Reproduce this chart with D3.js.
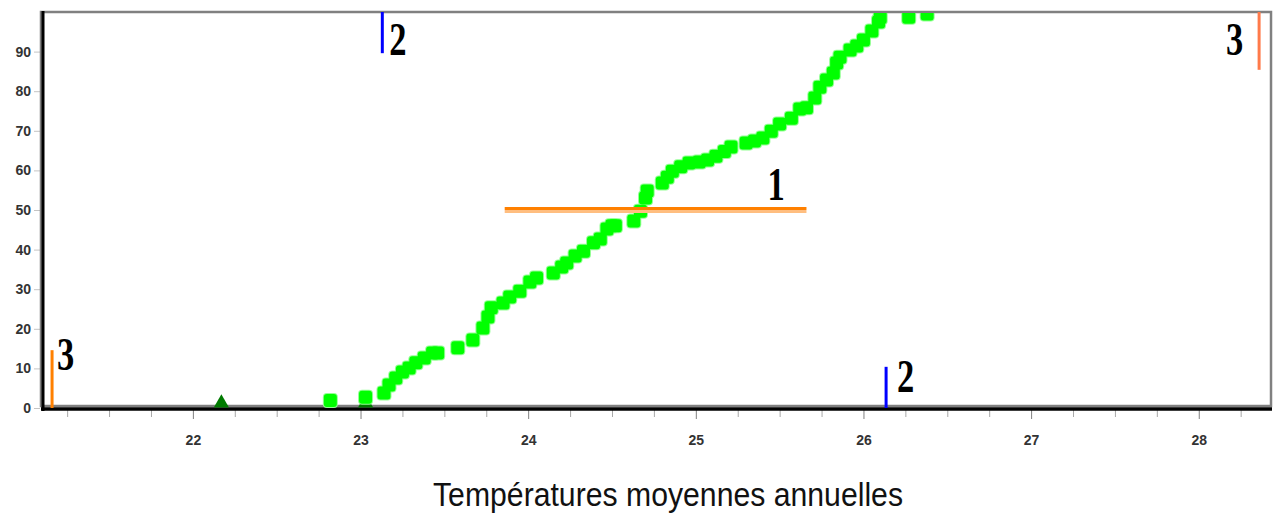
<!DOCTYPE html>
<html>
<head>
<meta charset="utf-8">
<script src="https://cdn.jsdelivr.net/npm/d3@7"></script>
<style>
  body { margin: 0; background: #fff; }
  svg { display: block; }
</style>
</head>
<body>
<script>
// cumulative frequency (%) of annual mean temperature
const tempC = [22.82, 23.03, 23.14, 23.17, 23.21, 23.25, 23.29, 23.33, 23.38, 23.43,
  23.46, 23.58, 23.67, 23.73, 23.76, 23.78, 23.85, 23.89, 23.95, 24.01,
  24.05, 24.15, 24.20, 24.23, 24.28, 24.33, 24.39, 24.43, 24.47, 24.50,
  24.52, 24.63, 24.67, 24.70, 24.71, 24.80, 24.83, 24.86, 24.91, 24.96,
  25.02, 25.07, 25.12, 25.17, 25.21, 25.30, 25.35, 25.40, 25.45, 25.50,
  25.57, 25.62, 25.66, 25.71, 25.74, 25.78, 25.82, 25.84, 25.86, 25.92,
  25.96, 26.00, 26.05, 26.09, 26.10, 26.27, 26.38];
const freqPct = [1.9, 2.7, 3.8, 5.8, 7.6, 9.1, 10.1, 11.4, 12.6, 13.9,
  13.9, 15.2, 17.2, 20.2, 23.0, 25.3, 26.5, 28.0, 29.5, 31.8,
  32.8, 34.1, 35.6, 36.6, 38.4, 39.6, 41.7, 42.7, 45.2, 46.0,
  46.0, 47.2, 49.7, 53.0, 54.8, 56.8, 58.3, 59.8, 60.9, 61.9,
  62.1, 62.6, 63.6, 64.8, 65.9, 66.9, 67.4, 68.2, 69.9, 71.7,
  73.2, 75.5, 75.8, 78.3, 81.0, 82.8, 84.6, 87.1, 88.6, 90.4,
  91.4, 92.9, 95.2, 97.5, 98.6, 98.7, 99.5];

// second series (dark triangles)
const darkT = [23.03, 22.17];
const darkP = [0, 0];

// reference marks 1, 2, 3
const refNames = ["3", "2", "1", "2", "3"];
const refT0 = [21.16, 23.13, 23.86, 26.135, 28.36];
const refT1 = [21.16, 23.13, 25.66, 26.135, 28.36];
const refP0 = [0, 89.6, 50, 0, 85.4];
const refP1 = [14.6, 100, 50, 10.4, 100];

const xMajor = [22, 23, 24, 25, 26, 27, 28];
const yTicks = [0, 10, 20, 30, 40, 50, 60, 70, 80, 90];
const xTitle = "Températures moyennes annuelles";

const width = 1279, height = 516;
const x = d3.scaleLinear([21.1, 28.425], [42, 1270]);
const y = d3.scaleLinear([0, 100], [408, 12]);

const svg = d3.select("body").append("svg")
    .attr("width", width)
    .attr("height", height);

svg.append("defs").append("clipPath")
    .attr("id", "plot")
  .append("rect")
    .attr("x", 42).attr("y", 13)
    .attr("width", 1228).attr("height", 395);

// y axis
const yAxis = svg.append("g")
    .attr("transform", "translate(40,0)")
    .call(d3.axisLeft(y).tickValues(yTicks).tickSize(6).tickPadding(3));
yAxis.select(".domain").remove();
yAxis.selectAll("line").attr("stroke", "#c4c4c4");
yAxis.selectAll("text")
    .attr("font-family", "Liberation Sans, Arial, sans-serif")
    .attr("font-size", 14)
    .attr("font-weight", "bold")
    .attr("fill", "#333");

// x axis: minor then major ticks
const minor = d3.range(21.25, 28.42, 0.25).filter(v => !xMajor.includes(v));
const xMinor = svg.append("g")
    .attr("transform", "translate(0,410)")
    .call(d3.axisBottom(x).tickValues(minor).tickSize(7).tickFormat(""));
xMinor.select(".domain").remove();
xMinor.selectAll("line").attr("stroke", "#a8a8a8");

const xAxis = svg.append("g")
    .attr("transform", "translate(0,410)")
    .call(d3.axisBottom(x).tickValues(xMajor).tickSize(9).tickPadding(16));
xAxis.select(".domain").remove();
xAxis.selectAll("line").attr("stroke", "#808080");
xAxis.selectAll("text")
    .attr("font-family", "Liberation Sans, Arial, sans-serif")
    .attr("font-size", 14)
    .attr("font-weight", "bold")
    .attr("fill", "#333");

// frame
svg.append("rect")
    .attr("x", 41).attr("y", 12)
    .attr("width", 1230).attr("height", 394)
    .attr("fill", "none")
    .attr("stroke", "#808080")
    .attr("stroke-width", 2.5);
svg.append("line")
    .attr("x1", 43).attr("x2", 43).attr("y1", 11).attr("y2", 411)
    .attr("stroke", "#000").attr("stroke-width", 3);
svg.append("line")
    .attr("x1", 41).attr("x2", 1272).attr("y1", 409).attr("y2", 409)
    .attr("stroke", "#000").attr("stroke-width", 3.5);

const plot = svg.append("g").attr("clip-path", "url(#plot)");

// dark triangles
plot.selectAll(".tri")
  .data(darkT)
  .join("path")
    .attr("class", "tri")
    .attr("transform", (d, i) => `translate(${x(d)},${y(darkP[i]) - 5})`)
    .attr("d", d3.symbol(d3.symbolTriangle, 100))
    .attr("fill", "#007a00");

// green points, soft edge under solid core
const pts = tempC.map((t, i) => [t, freqPct[i]]);
plot.append("g").selectAll("rect")
  .data(pts)
  .join("rect")
    .attr("x", d => x(d[0]) - 7.5)
    .attr("y", d => y(d[1]) - 7.5)
    .attr("width", 15).attr("height", 15).attr("rx", 4)
    .attr("fill", "#94ff94");
plot.append("g").selectAll("rect")
  .data(pts)
  .join("rect")
    .attr("x", d => x(d[0]) - 6.5)
    .attr("y", d => y(d[1]) - 6.5)
    .attr("width", 13).attr("height", 13).attr("rx", 3)
    .attr("fill", "#00ff00");

// reference marks
const refColor = ["#ff8000", "#0000ff", "#ff8000", "#0000ff", "#ff7a4a"];
const refLabelPos = [[5, 20], [7, 43], [-39, -10], [11, 25], [-33, 43]];

refNames.forEach((name, i) => {
  const x0 = x(refT0[i]), x1 = x(refT1[i]);
  const y0 = y(refP0[i]), y1 = y(refP1[i]);
  if (y0 === y1) {
    svg.append("line")
        .attr("x1", x0).attr("x2", x1).attr("y1", y0 + 1.5).attr("y2", y0 + 1.5)
        .attr("stroke", "#ffbe80").attr("stroke-width", 3);
    svg.append("line")
        .attr("x1", x0).attr("x2", x1).attr("y1", y0 - 1.5).attr("y2", y0 - 1.5)
        .attr("stroke", refColor[i]).attr("stroke-width", 3);
  } else {
    svg.append("line")
        .attr("x1", x0).attr("x2", x1).attr("y1", y0).attr("y2", y1)
        .attr("stroke", refColor[i]).attr("stroke-width", 3);
  }
  const ax = y0 === y1 ? x1 : x0;
  const ay = y0 === y1 ? y0 : y1;
  svg.append("text")
      .attr("transform", `translate(${ax + refLabelPos[i][0]},${ay + refLabelPos[i][1]}) scale(0.75,1)`)
      .attr("font-family", "Liberation Serif, Times New Roman, serif")
      .attr("font-size", 46)
      .attr("font-weight", "bold")
      .attr("fill", "#000")
      .text(name);
});

// axis title
svg.append("text")
    .attr("x", 433).attr("y", 506)
    .attr("textLength", 470)
    .attr("lengthAdjust", "spacingAndGlyphs")
    .attr("font-family", "Liberation Sans, Arial, sans-serif")
    .attr("font-size", 34)
    .attr("fill", "#111")
    .text(xTitle);
</script>
</body>
</html>
